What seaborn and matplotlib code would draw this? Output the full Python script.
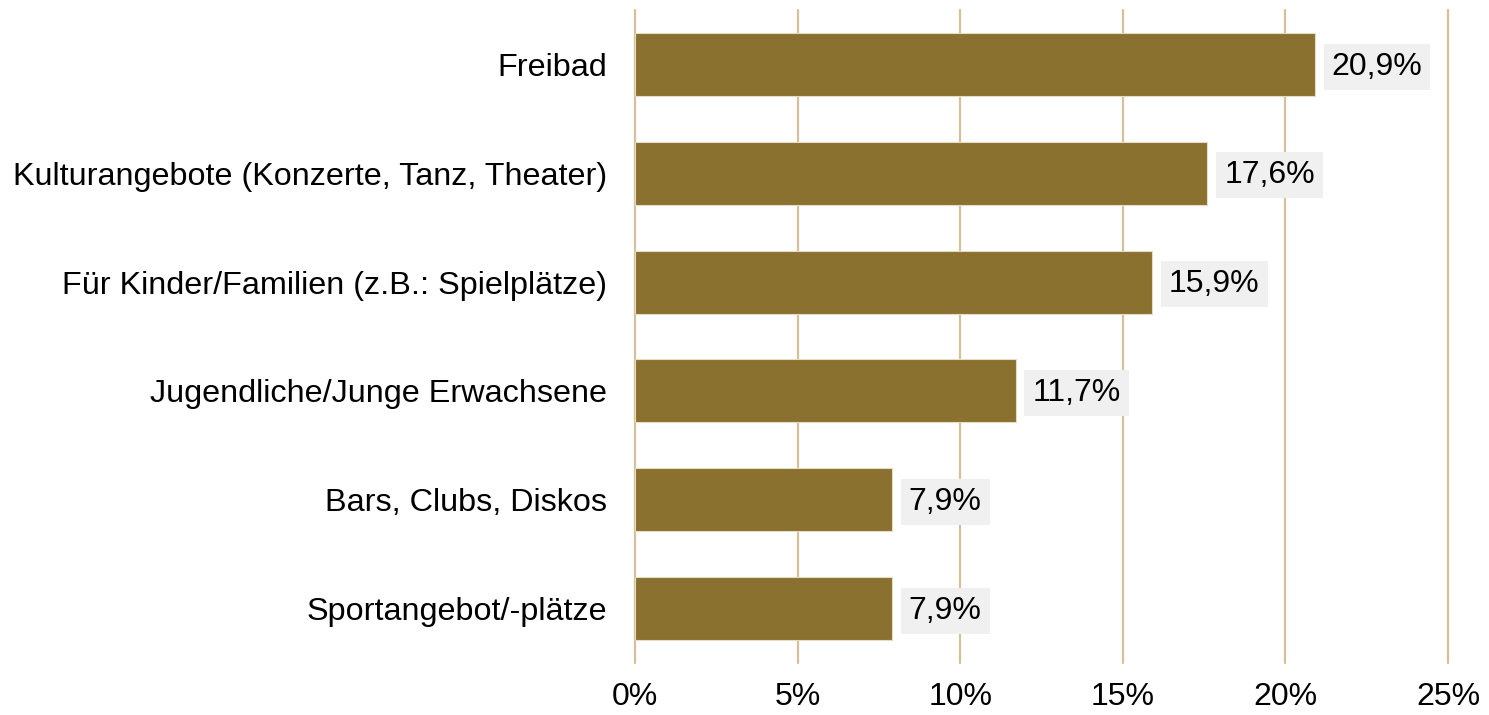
import matplotlib
matplotlib.use("Agg")
import matplotlib.pyplot as plt
import seaborn as sns
import pandas as pd

categories = ["Freibad", "Kulturangebote (Konzerte, Tanz, Theater)",
              "Für Kinder/Familien (z.B.: Spielplätze)", "Jugendliche/Junge Erwachsene",
              "Bars, Clubs, Diskos", "Sportangebot/-plätze"]
values = [20.9, 17.6, 15.9, 11.7, 7.9, 7.9]
value_labels = ["20,9%", "17,6%", "15,9%", "11,7%", "7,9%", "7,9%"]
xticks = [0, 5, 10, 15, 20, 25]
xtick_labels = ["0%", "5%", "10%", "15%", "20%", "25%"]

sns.set_style("white")
plt.rcParams['font.family'] = ['Liberation Sans', 'DejaVu Sans']
plt.rcParams['text.color'] = 'black'
plt.rcParams['xtick.color'] = 'black'
plt.rcParams['ytick.color'] = 'black'

df = pd.DataFrame({"cat": categories, "val": values})

fig = plt.figure(figsize=(14.89, 7.15), dpi=100)
ax = fig.add_axes([0.4265, 0.0727, 0.546, 0.9133])

for x in xticks:
    ax.axvline(x, color="#D4C09A", lw=1.6, zorder=0, clip_on=False)

sns.barplot(data=df, x="val", y="cat", orient="h", color="#8B7130",
            saturation=1, width=0.58, ax=ax, zorder=2, edgecolor="#E6DCC4", linewidth=0.8)

for i, (v, lab) in enumerate(zip(values, value_labels)):
    ax.text(v + 0.52, i + 0.02, lab, va="center", ha="left", fontsize=23, color="black",
            bbox=dict(boxstyle="square,pad=0.25", fc="#F0F0F0", ec="none"), zorder=3)

ax.set_xlim(0, 25)
ax.set_ylim(5.5, -0.5)
ax.set_xticks(xticks)
ax.set_xticklabels(xtick_labels, fontsize=23)
ax.tick_params(axis="x", length=0, pad=14)
ax.tick_params(axis="y", length=0, pad=20, labelsize=23.3)
ax.set_xlabel("")
ax.set_ylabel("")
for s in ax.spines.values():
    s.set_visible(False)

fig.savefig("out.png", dpi=100)
